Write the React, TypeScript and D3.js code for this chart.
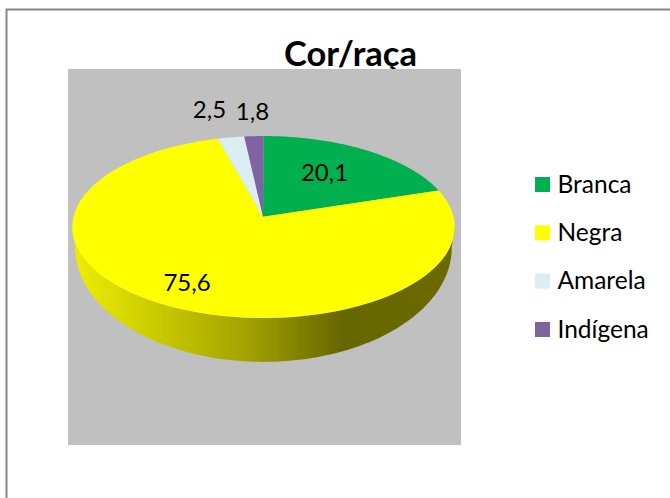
import React from "react";
import * as d3 from "d3";

const categories = ["Branca", "Negra", "Amarela", "Indígena"];
const values = [20.1, 75.6, 2.5, 1.8];
const colors = ["#00B050", "#FFFF00", "#DAEEF3", "#8064A2"];
const title = "Cor/raça";
const labelAnchors: [number, number][] = [[324.5, 181], [187, 291], [209.5, 118], [252.5, 120]];

const W = 670, H = 498;
const P = 0.1133;
const top = { x0: 263.5, y0: 216.7, R: 190, S: 89.8 };
const bot = { x0: 263.5, y0: 235, R: 187, S: 112.5 };
const project = (a: number, g: typeof top): [number, number] => {
  const u = Math.sin(a), v = Math.cos(a), w = 1 + P * v;
  return [g.x0 + (g.R * u) / w, g.y0 - (g.S * v) / w];
};
const arcs = d3.pie<number>().sort(null).startAngle(0).endAngle(2 * Math.PI)(values);
const line = d3.line();
const sample = (a0: number, a1: number, g: typeof top) =>
  d3.range(0, 121).map((i) => project(a0 + ((a1 - a0) * i) / 120, g));

const sliceD = (a0: number, a1: number) =>
  line([[263, top.y0], ...sample(a0, a1, top)])! + "Z";
const A0 = Math.PI / 2 + 0.11, A1 = (3 * Math.PI) / 2 - 0.11;
const wallD = line([...sample(A0, A1, top), ...sample(A1, A0, bot)])! + "Z";
const legendY = d3.scalePoint<string>().domain(categories).range([184.5, 329.5]);
const fmt = (v: number) => String(v).replace(".", ",");
const font = "Lato, 'Open Sans', sans-serif";

export default function App() {
  return (
    <svg width={W} height={H} style={{ position: "absolute", left: 0, top: 0, background: "#fff" }}>
      <defs>
        <linearGradient id="wall" gradientUnits="userSpaceOnUse" x1={75} x2={452} y1={0} y2={0}>
          <stop offset="0" stopColor="#EDED00" />
          <stop offset="0.12" stopColor="#DADA00" />
          <stop offset="0.45" stopColor="#A3A300" />
          <stop offset="0.71" stopColor="#666600" />
          <stop offset="1" stopColor="#6B6B00" />
        </linearGradient>
        <filter id="soft" x="-5%" y="-5%" width="110%" height="110%">
          <feGaussianBlur stdDeviation="0.4" />
        </filter>
      </defs>
      <path d={`M6.5 498V9.5H670`} fill="none" stroke="#868686" strokeWidth={2} />
      <text x={350.5} y={66} textAnchor="middle" fontFamily={font} fontWeight={700} fontSize={34.5} fill="#000">
        {title}
      </text>
      <rect x={68} y={69} width={393} height={376} fill="#C0C0C0" />
      <g filter="url(#soft)">
        <path d={wallD} fill="url(#wall)" />
        {arcs.map((a, i) => (
          <path key={i} d={sliceD(a.startAngle, a.endAngle)} fill={colors[a.index]} />
        ))}
      </g>
      {arcs.map((a, i) => (
        <text key={i} x={labelAnchors[i][0]} y={labelAnchors[i][1]} textAnchor="middle"
          fontFamily={font} fontSize={24} fill="#000">
          {fmt(values[i])}
        </text>
      ))}
      {categories.map((c, i) => (
        <g key={c}>
          <rect x={535} y={legendY(c)! - 7.5} width={15} height={15} fill={colors[i]} />
          <text x={557.5} y={legendY(c)! + 8} fontFamily={font} fontSize={24.5} fill="#000">{c}</text>
        </g>
      ))}
    </svg>
  );
}
